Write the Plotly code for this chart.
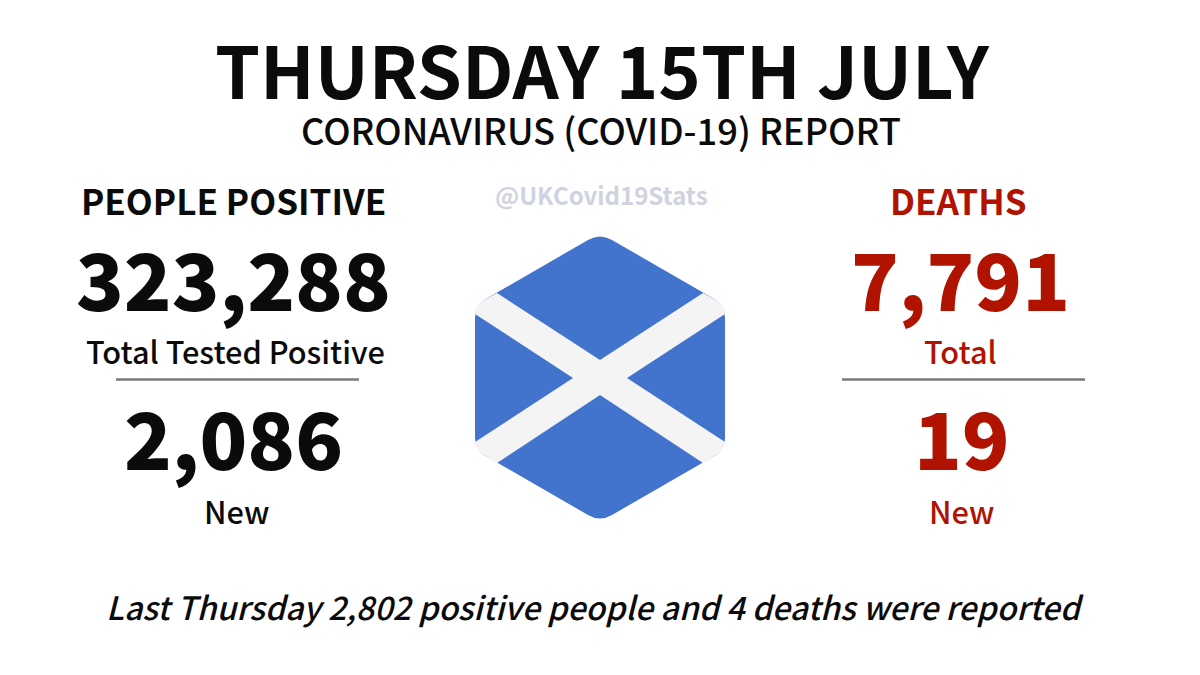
import plotly.graph_objects as go

TITLE = "THURSDAY 15TH JULY"
SUBTITLE = "CORONAVIRUS (COVID-19) REPORT"
HANDLE = "@UKCovid19Stats"
FOOTER = "Last Thursday 2,802 positive people and 4 deaths were reported"
LEFT_TEXTS = ["PEOPLE POSITIVE", "323,288", "Total Tested Positive", "2,086", "New"]
RIGHT_TEXTS = ["DEATHS", "7,791", "Total", "19", "New"]

FONT = "Noto Sans CJK JP"
BLACK = "#0b0b0b"
RED = "#b01400"
BLUE = "#4374cd"
CROSS = "#f4f4f5"
W, H = 1200, 675
PAGE_MARGIN = 8  # the page body pushes the figure down and right by this much


def py(y):
    return H - y


def flip(path):
    out, is_y = [], False
    for t in path.split():
        if t.isalpha():
            out.append(t)
            is_y = False
        else:
            out.append(str(H - float(t)) if is_y else t)
            is_y = not is_y
    return " ".join(out)


fig = go.Figure()

# hexagon with rounded corners, then the saltire on top
hex_path = ("M 588 240 Q 600 233 612 240 L 716 300 Q 725 306 725 318 L 725 438 "
            "Q 725 449 716 455 L 612 515 Q 600 522 588 515 L 484 455 Q 475 449 475 438 "
            "L 475 318 Q 475 306 484 300 Z")
cross_path = ("M 497 293 L 600 360 L 703 293 L 716 300 Q 725 306 725 314 L 627 378 L 725 442 "
              "Q 725 449 716 455 L 703 463 L 600 395 L 497 463 L 484 455 Q 475 449 475 442 "
              "L 573 378 L 475 314 Q 475 306 484 300 Z")
fig.add_shape(type="path", path=flip(hex_path), fillcolor=BLUE, line_width=0, layer="below")
fig.add_shape(type="path", path=flip(cross_path), fillcolor=CROSS, line_width=0, layer="below")

# dividers
for x0, x1 in [(116, 359), (842, 1085)]:
    fig.add_shape(type="line", x0=x0, x1=x1, y0=py(379.5), y1=py(379.5), line=dict(color="#7a7a7a", width=2.5))


def label(x, y, text, size, color=BLACK, italic=False, weight=500):
    t = f"<i>{text}</i>" if italic else text
    font = dict(family=FONT, size=size, color=color, weight=weight)
    fig.add_annotation(x=x, y=py(y), text=t, showarrow=False, xanchor="center", yanchor="middle", font=font)


label(602, 67, TITLE, 72.2, weight=700)
label(601, 129, SUBTITLE, 36.3)
label(601, 194, HANDLE, 24, color="#cfd2df", weight=700)
label(595, 606, FOOTER, 32.1, italic=True)

# left and right columns share the same layout
sizes = [(199, 35, 700), (277, 78.6, 900), (350, 30.7, 500), (436, 78.6, 900), (510, 30.7, 500)]
for txt, (y, s, w), x in zip(LEFT_TEXTS, sizes, [233, 233, 235, 233, 236]):
    label(x, y, txt, s, weight=w)
for txt, (y, s, w), x in zip(RIGHT_TEXTS, sizes, [958, 960, 960, 962, 961]):
    label(x, y, txt, s, color=RED, weight=w)

fig.update_xaxes(range=[PAGE_MARGIN, W + PAGE_MARGIN], visible=False, fixedrange=True)
fig.update_yaxes(range=[-PAGE_MARGIN, H - PAGE_MARGIN], visible=False, fixedrange=True)
fig.update_layout(width=W, height=H, margin=dict(l=0, r=0, t=0, b=0), plot_bgcolor="white",
                  paper_bgcolor="white", showlegend=False)
fig.write_html("out.html")
